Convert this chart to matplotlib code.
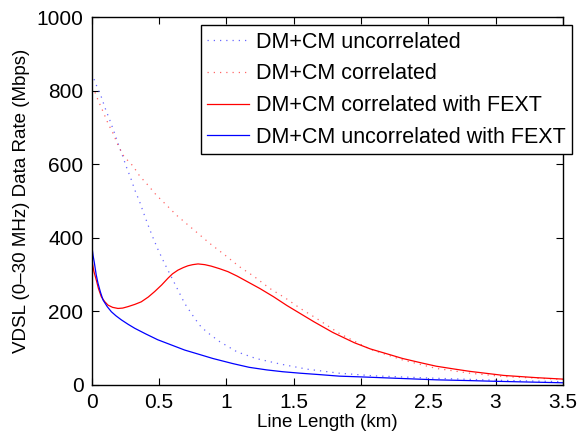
import matplotlib

matplotlib.use("Agg")
import matplotlib.pyplot as plt
from matplotlib.ticker import FormatStrFormatter, MultipleLocator

plt.rcParams["font.family"] = ["Liberation Sans", "DejaVu Sans"]

# DM+CM uncorrelated (blue dotted)
unc_km = [0, 0.034, 0.071, 0.10, 0.134, 0.166, 0.195, 0.227, 0.257, 0.29, 0.32, 0.356,
          0.386, 0.418, 0.45, 0.49, 0.54, 0.616, 0.69, 0.765, 0.814, 0.88, 0.95, 1.08,
          1.22, 1.40, 1.60, 1.84, 2.09, 2.5, 3.0, 3.5]
unc_rate = [847, 815, 783, 752, 720, 688, 657, 625, 593, 562, 530, 498,
            467, 435, 405, 370, 331, 276, 222, 181, 157, 137, 118, 90,
            72, 57, 43, 32, 25, 19, 13, 9]

# DM+CM correlated (red dotted)
cor_km = [0, 0.027, 0.047, 0.084, 0.121, 0.158, 0.195, 0.232, 0.27, 0.307, 0.356,
          0.418, 0.48, 0.566, 0.628, 0.702, 0.77, 0.876, 0.99, 1.099, 1.21, 1.32,
          1.44, 1.55, 1.67, 1.84, 2.07, 2.31, 2.56, 2.81, 3.06, 3.5]
cor_rate = [810, 793, 774, 743, 711, 684, 652, 625, 609, 595, 568,
            543, 516, 485, 462, 439, 418, 385, 353, 321, 294, 263,
            236, 208, 181, 140, 97, 68, 45, 32, 23, 15]

# DM+CM correlated with FEXT (red solid)
cor_fext_km = [0, 0.015, 0.034, 0.05, 0.071, 0.095, 0.121, 0.155, 0.195, 0.23, 0.27,
               0.32, 0.368, 0.42, 0.468, 0.52, 0.566, 0.60, 0.64, 0.68, 0.715, 0.75,
               0.79, 0.84, 0.888, 0.95, 1.012, 1.08, 1.155, 1.25, 1.35, 1.45, 1.55,
               1.65, 1.79, 1.95, 2.07, 2.2, 2.31, 2.45, 2.56, 2.7, 2.81, 3.06, 3.3, 3.5]
cor_fext_rate = [342, 310, 285, 262, 240, 227, 217, 211, 208, 209, 213,
                 219, 226, 239, 254, 272, 290, 302, 312, 319, 324, 327,
                 329, 327, 323, 316, 308, 296, 281, 262, 240, 216, 194,
                 172, 143, 115, 98, 84, 72, 60, 51, 43, 37, 26, 20, 16]

# DM+CM uncorrelated with FEXT (blue solid)
unc_fext_km = [0, 0.01, 0.02, 0.033, 0.047, 0.065, 0.084, 0.115, 0.146, 0.18, 0.22,
               0.27, 0.32, 0.40, 0.49, 0.59, 0.69, 0.80, 0.90, 1.05, 1.17, 1.30,
               1.42, 1.55, 1.70, 1.84, 2.0, 2.14, 2.35, 2.56, 2.8, 3.0, 3.25, 3.5]
unc_fext_rate = [380, 352, 331, 300, 276, 252, 231, 213, 199, 188, 177,
                 165, 154, 139, 123, 109, 95, 83, 72, 58, 48, 41,
                 36, 32, 28, 24, 22, 20, 17, 14, 12, 10, 8, 6]

fig = plt.figure(figsize=(5.78, 4.36), dpi=100)
ax = fig.add_axes([0.1587, 0.117, 0.815, 0.844])

dot = (0, (1, 4))
ax.plot(unc_km, unc_rate, color="#4040ff", lw=0.9, ls=dot, alpha=0.8, label="DM+CM uncorrelated")
ax.plot(cor_km, cor_rate, color="#ff4040", lw=0.9, ls=dot, alpha=0.8, label="DM+CM correlated")
ax.plot(cor_fext_km, cor_fext_rate, color="#ff0000", lw=0.9, label="DM+CM correlated with FEXT")
ax.plot(unc_fext_km, unc_fext_rate, color="#0000ff", lw=0.9, label="DM+CM uncorrelated with FEXT")

ax.set_xlim(0, 3.5)
ax.set_ylim(0, 1000)
ax.xaxis.set_major_locator(MultipleLocator(0.5))
ax.yaxis.set_major_locator(MultipleLocator(200))
ax.xaxis.set_major_formatter(FormatStrFormatter("%g"))
ax.tick_params(direction="in", top=True, right=True, length=5, width=0.8, labelsize=15, pad=6)
for s in ax.spines.values():
    s.set_linewidth(1.0)

ax.set_xlabel("Line Length (km)", fontsize=13.5, labelpad=1)
ax.set_ylabel("VDSL (0\u201330 MHz) Data Rate (Mbps)", fontsize=13.5, labelpad=5)

leg = ax.legend(loc="upper right", bbox_to_anchor=(1.019, 0.978), borderaxespad=0,
                fontsize=15.5, handlelength=1.95, handletextpad=0.3, labelspacing=0.5,
                borderpad=0.3, fancybox=False, framealpha=1, edgecolor="black")
leg.get_frame().set_linewidth(1.0)

fig.savefig("out.png", dpi=100)
plt.close(fig)
